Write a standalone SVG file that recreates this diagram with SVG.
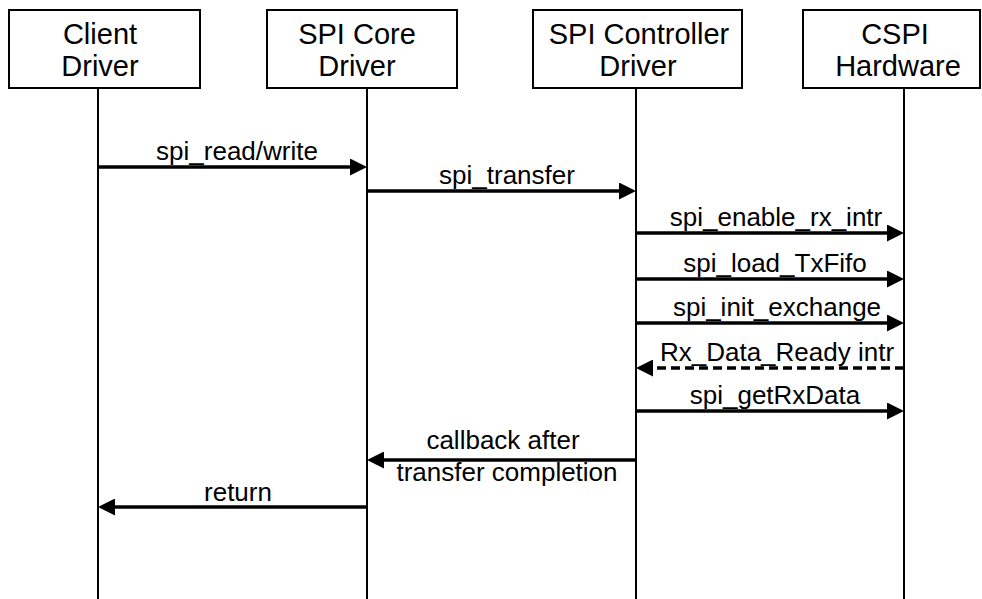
<svg xmlns="http://www.w3.org/2000/svg" width="982" height="599" viewBox="0 0 982 599">
<style>
.box{fill:#fff;stroke:#000;stroke-width:2}
.life{stroke:#000;stroke-width:2}
.title{font-family:"Liberation Sans",Arial,sans-serif;font-size:29px;text-anchor:middle;fill:#000}
.lbl{font-family:"Liberation Sans",Arial,sans-serif;font-size:26px;text-anchor:middle;fill:#000}
.msg{stroke:#000;stroke-width:3.5;fill:none;marker-end:url(#ah)}
.dash{stroke-dasharray:9 5}
</style>
<defs>
<marker id="ah" viewBox="0 0 17 17" refX="8.5" refY="8.5" markerWidth="17" markerHeight="17" markerUnits="userSpaceOnUse" orient="auto">
<path d="M0,0 L17,8.5 L0,17 z" fill="#000"/>
</marker>
</defs>
<g id="client">
<rect class="box" x="9" y="10" width="191" height="78"/>
<text class="title" x="100" y="44">Client</text>
<text class="title" x="100" y="76">Driver</text>
<line class="life" x1="98" y1="88" x2="98" y2="599"/>
</g>
<g id="core">
<rect class="box" x="267" y="10" width="190" height="78"/>
<text class="title" x="357" y="44">SPI Core</text>
<text class="title" x="357" y="76">Driver</text>
<line class="life" x1="367" y1="88" x2="367" y2="599"/>
</g>
<g id="controller">
<rect class="box" x="533" y="10" width="209" height="78"/>
<text class="title" x="639" y="44">SPI Controller</text>
<text class="title" x="638" y="76">Driver</text>
<line class="life" x1="636" y1="88" x2="636" y2="599"/>
</g>
<g id="cspi">
<rect class="box" x="803" y="10" width="177" height="78"/>
<text class="title" x="895" y="44">CSPI</text>
<text class="title" x="898" y="76">Hardware</text>
<line class="life" x1="904" y1="88" x2="904" y2="599"/>
</g>
<g id="connectors">
<line class="msg" x1="98" y1="167" x2="358.5" y2="167"/>
<text class="lbl" x="237" y="160">spi_read/write</text>
<line class="msg" x1="367" y1="191" x2="627.5" y2="191"/>
<text class="lbl" x="507" y="184">spi_transfer</text>
<line class="msg" x1="636" y1="233" x2="895.5" y2="233"/>
<text class="lbl" x="776" y="226">spi_enable_rx_intr</text>
<line class="msg" x1="636" y1="279" x2="895.5" y2="279"/>
<text class="lbl" x="775" y="272">spi_load_TxFifo</text>
<line class="msg" x1="636" y1="323" x2="895.5" y2="323"/>
<text class="lbl" x="777" y="316">spi_init_exchange</text>
<line class="msg dash" x1="904" y1="368" x2="644.5" y2="368"/>
<text class="lbl" x="777" y="361">Rx_Data_Ready intr</text>
<line class="msg" x1="636" y1="411" x2="895.5" y2="411"/>
<text class="lbl" x="775" y="404">spi_getRxData</text>
<line class="msg" x1="636" y1="460" x2="375.5" y2="460"/>
<text class="lbl" x="503" y="449">callback after</text>
<text class="lbl" x="507" y="481">transfer completion</text>
<line class="msg" x1="367" y1="507" x2="106.5" y2="507"/>
<text class="lbl" x="238" y="501">return</text>
</g>
</svg>
